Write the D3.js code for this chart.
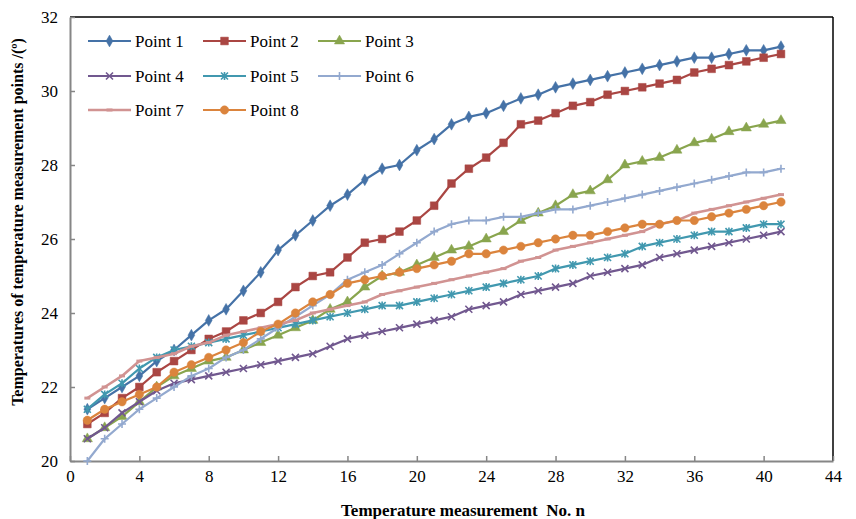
<!DOCTYPE html>
<html>
<head>
<meta charset="utf-8">
<script src="https://cdn.jsdelivr.net/npm/d3@7"></script>
<style>
  body { margin: 0; background: #fff; }
  svg text { font-family: "Liberation Serif", "Times New Roman", serif; }
</style>
</head>
<body>
<svg id="chart"></svg>
<script>
// 1. Data
const measurementNo = d3.range(1, 42)
const xTicks = d3.range(0, 45, 4)
const yTicks = [20, 22, 24, 26, 28, 30, 32]

const point1 = [21.4,21.7,22.0,22.3,22.7,23.0,23.4,23.8,24.1,24.6,25.1,25.7,26.1,26.5,26.9,27.2,27.6,27.9,28.0,28.4,
  28.7,29.1,29.3,29.4,29.6,29.8,29.9,30.1,30.2,30.3,30.4,30.5,30.6,30.7,30.8,30.9,30.9,31.0,31.1,31.1,31.2]
const point2 = [21.0,21.3,21.7,22.0,22.4,22.7,23.0,23.3,23.5,23.8,24.0,24.3,24.7,25.0,25.1,25.5,25.9,26.0,26.2,26.5,
  26.9,27.5,27.9,28.2,28.6,29.1,29.2,29.4,29.6,29.7,29.9,30.0,30.1,30.2,30.3,30.5,30.6,30.7,30.8,30.9,31.0]
const point3 = [20.6,20.9,21.2,21.6,22.0,22.3,22.5,22.7,22.8,23.0,23.2,23.4,23.6,23.8,24.1,24.3,24.7,25.0,25.1,25.3,
  25.5,25.7,25.8,26.0,26.2,26.5,26.7,26.9,27.2,27.3,27.6,28.0,28.1,28.2,28.4,28.6,28.7,28.9,29.0,29.1,29.2]
const point4 = [20.6,20.9,21.3,21.6,21.9,22.1,22.2,22.3,22.4,22.5,22.6,22.7,22.8,22.9,23.1,23.3,23.4,23.5,23.6,23.7,
  23.8,23.9,24.1,24.2,24.3,24.5,24.6,24.7,24.8,25.0,25.1,25.2,25.3,25.5,25.6,25.7,25.8,25.9,26.0,26.1,26.2]
const point5 = [21.4,21.8,22.1,22.5,22.8,23.0,23.1,23.2,23.3,23.4,23.5,23.6,23.7,23.8,23.9,24.0,24.1,24.2,24.2,24.3,
  24.4,24.5,24.6,24.7,24.8,24.9,25.0,25.2,25.3,25.4,25.5,25.6,25.8,25.9,26.0,26.1,26.2,26.2,26.3,26.4,26.4]
const point6 = [20.0,20.6,21.0,21.4,21.7,22.0,22.3,22.5,22.8,23.0,23.3,23.6,23.9,24.2,24.5,24.9,25.1,25.3,25.6,25.9,
  26.2,26.4,26.5,26.5,26.6,26.6,26.7,26.8,26.8,26.9,27.0,27.1,27.2,27.3,27.4,27.5,27.6,27.7,27.8,27.8,27.9]
const point7 = [21.7,22.0,22.3,22.7,22.8,22.9,23.1,23.2,23.4,23.5,23.6,23.7,23.8,24.0,24.1,24.2,24.3,24.5,24.6,24.7,
  24.8,24.9,25.0,25.1,25.2,25.4,25.5,25.7,25.8,25.9,26.0,26.1,26.2,26.4,26.5,26.7,26.8,26.9,27.0,27.1,27.2]
const point8 = [21.1,21.4,21.6,21.8,22.0,22.4,22.6,22.8,23.0,23.2,23.5,23.7,24.0,24.3,24.5,24.8,24.9,25.0,25.1,25.2,
  25.3,25.4,25.6,25.6,25.7,25.8,25.9,26.0,26.1,26.1,26.2,26.3,26.4,26.4,26.5,26.5,26.6,26.7,26.8,26.9,27.0]

const seriesNames = ["Point 1","Point 2","Point 3","Point 4","Point 5","Point 6","Point 7","Point 8"]
const seriesValues = [point1, point2, point3, point4, point5, point6, point7, point8]
const seriesColors = ["#4572A7","#AA4643","#89A54E","#71588F","#4198AF","#93A9CF","#D19392","#DB843D"]
const seriesMarkers = ["diamond","square","triangle","cross","asterisk","plus","dash","circle"]

// 2. Dimensions
const width = 856
const height = 519
let dimensions = {
  width: width,
  height: height,
  margin: { top: 17, right: 23, bottom: 58, left: 70 },
}
dimensions.boundedWidth = dimensions.width - dimensions.margin.left - dimensions.margin.right
dimensions.boundedHeight = dimensions.height - dimensions.margin.top - dimensions.margin.bottom

const serif = '"Liberation Serif", "Times New Roman", serif'

// 3. Canvas
const wrapper = d3.select("#chart")
    .attr("width", dimensions.width)
    .attr("height", dimensions.height)

const bounds = wrapper.append("g")
    .attr("transform", `translate(${dimensions.margin.left},${dimensions.margin.top})`)

// 4. Scales
const xScale = d3.scaleLinear()
  .domain([0, 44])
  .range([0, dimensions.boundedWidth])

const yScale = d3.scaleLinear()
  .domain([20, 32])
  .range([dimensions.boundedHeight, 0])

// 5. Frame + axes
bounds.append("line")
    .attr("x1", 0).attr("x2", dimensions.boundedWidth)
    .attr("y1", 0).attr("y2", 0)
    .attr("stroke", "#000").attr("stroke-width", 1.5)
bounds.append("line")
    .attr("x1", dimensions.boundedWidth).attr("x2", dimensions.boundedWidth)
    .attr("y1", 0).attr("y2", dimensions.boundedHeight)
    .attr("stroke", "#000").attr("stroke-width", 1.5)

const yAxis = bounds.append("g")
    .call(d3.axisLeft(yScale).tickValues(yTicks).tickSizeInner(-5).tickSizeOuter(0).tickPadding(12))
const xAxis = bounds.append("g")
    .attr("transform", `translate(0,${dimensions.boundedHeight})`)
    .call(d3.axisBottom(xScale).tickValues(xTicks).tickSizeInner(-5).tickSizeOuter(0).tickPadding(9))

;[xAxis, yAxis].forEach(axis => {
  axis.attr("font-family", serif).attr("font-size", 17)
  axis.select(".domain").attr("stroke", "#868686").attr("stroke-width", 2)
  axis.selectAll(".tick line").attr("stroke", "#868686").attr("stroke-width", 1.5)
  axis.selectAll(".tick text")
      .style("font-family", serif)
      .style("font-size", "17px")
      .attr("fill", "#000")
})

// 6. Lines and markers
const markerPath = (type) => {
  switch (type) {
    case "diamond": return d3.symbol(d3.symbolDiamond, 40)()
    case "square": return d3.symbol(d3.symbolSquare, 60)()
    case "triangle": return d3.symbol(d3.symbolTriangle, 45)()
    case "circle": return d3.symbol(d3.symbolCircle, 55)()
    case "cross": return "M-3.5,-3.5L3.5,3.5M-3.5,3.5L3.5,-3.5"
    case "asterisk": return "M-3.5,-3.5L3.5,3.5M-3.5,3.5L3.5,-3.5M0,-4L0,4"
    case "plus": return "M-4,0L4,0M0,-4L0,4"
    case "dash": return "M-3,0L3,0"
  }
}
const isStrokeMarker = (type) => ["cross","asterisk","plus","dash"].includes(type)

const lineGenerator = d3.line()
  .x((d, i) => xScale(measurementNo[i]))
  .y(d => yScale(d))

seriesValues.forEach((values, s) => {
  const color = seriesColors[s]
  const type = seriesMarkers[s]
  const g = bounds.append("g").attr("class", "series")
  g.append("path")
      .attr("d", lineGenerator(values))
      .attr("fill", "none")
      .attr("stroke", color)
      .attr("stroke-width", type === "dash" ? 2.6 : 2.2)
      .attr("stroke-linejoin", "round")

  g.selectAll("path.marker")
    .data(values)
    .join("path")
      .attr("class", "marker")
      .attr("transform", (d, i) => `translate(${xScale(measurementNo[i])},${yScale(d)})`)
      .attr("d", markerPath(type))
      .attr("fill", isStrokeMarker(type) ? "none" : color)
      .attr("stroke", color)
      .attr("stroke-width", isStrokeMarker(type) ? (type === "dash" ? 3 : 1.6) : 0.5)
})

// 7. Legend
const legendCols = [18, 133, 248]
const legendRows = [24, 59, 93]
const legend = bounds.append("g")
seriesNames.forEach((name, s) => {
  const col = s % 3
  const row = Math.floor(s / 3)
  const lg = legend.append("g")
      .attr("transform", `translate(${legendCols[col]},${legendRows[row]})`)
  lg.append("line")
      .attr("x1", 0).attr("x2", 43).attr("y1", 0).attr("y2", 0)
      .attr("stroke", seriesColors[s])
      .attr("stroke-width", seriesMarkers[s] === "dash" ? 2.6 : 2.2)
  lg.append("path")
      .attr("transform", "translate(21.5,0)")
      .attr("d", markerPath(seriesMarkers[s]))
      .attr("fill", isStrokeMarker(seriesMarkers[s]) ? "none" : seriesColors[s])
      .attr("stroke", seriesColors[s])
      .attr("stroke-width", isStrokeMarker(seriesMarkers[s]) ? (seriesMarkers[s] === "dash" ? 3 : 1.6) : 0.5)
  lg.append("text")
      .attr("x", 47)
      .attr("y", 0)
      .attr("dy", "0.35em")
      .style("font-family", serif)
      .style("font-size", "17px")
      .text(name)
})

// 8. Axis titles
wrapper.append("text")
    .attr("x", 463)
    .attr("y", 516)
    .attr("text-anchor", "middle")
    .attr("xml:space", "preserve")
    .style("white-space", "pre")
    .style("font-family", serif)
    .style("font-size", "17px")
    .style("font-weight", "bold")
    .text("Temperature measurement  No. n")

wrapper.append("text")
    .attr("transform", `translate(23,${222}) rotate(-90)`)
    .attr("text-anchor", "middle")
    .style("font-family", serif)
    .style("font-size", "16px")
    .style("font-weight", "bold")
    .text("Temperatures of temperature measurement points /(º)")
</script>
</body>
</html>
